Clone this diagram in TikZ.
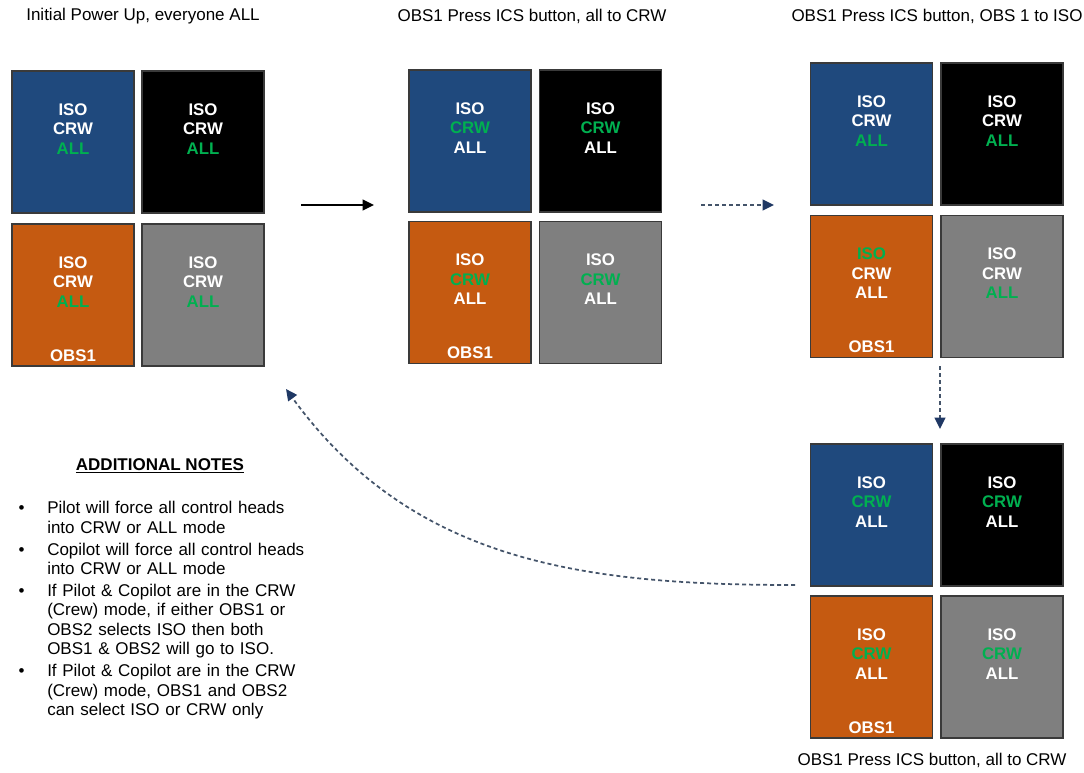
\documentclass[tikz,border=0pt]{standalone}
\usepackage{fontspec}
\setmainfont{Liberation Sans}
\usepackage{enumitem}
\usetikzlibrary{positioning}
\usetikzlibrary{arrows.meta}
\definecolor{hblue}{HTML}{1F497D}
\definecolor{horange}{HTML}{C55A11}
\definecolor{hgray}{HTML}{7F7F7F}
\definecolor{hblack}{HTML}{000000}
\definecolor{boxline}{HTML}{3A3A3A}
\definecolor{crwgreen}{HTML}{00B050}
\definecolor{flowline}{HTML}{44546A}
\definecolor{flowtip}{HTML}{1F3864}
\newcommand\grn[1]{\textcolor{crwgreen}{#1}}
% one control head: name, centre, fill, lines
\newcommand\ctrlhead[4]{%
\node[headbox, fill=#3] (#1) at (#2) {};
\node[headtxt] (#1t) at ([yshift=10pt]#1.center) {#4};
}
\newcommand\obslabel[1]{%
\node[headtxt] (#1obs) at ([yshift=8.5pt]#1.south) {OBS1};
}

\begin{document}
\begin{tikzpicture}[x=0.75pt,y=-0.75pt,
  headbox/.style={draw=boxline,line width=0.9pt,minimum width=91.5pt,minimum height=106.5pt,inner sep=0pt},
  headtxt/.style={text=white,font=\fontsize{12.6}{14.6}\selectfont\bfseries,align=center,inner sep=0pt},
  title/.style={font=\fontsize{12.75}{14.6}\selectfont,inner sep=0pt},
  flowsolid/.style={line width=1.2pt,-{Triangle[length=8.5pt,width=8pt]}},
  flowdash/.style={draw=flowline,line width=1.3pt,dash pattern=on 3pt off 2.25pt,-{Triangle[length=8.5pt,width=8pt,color=flowtip]}}]
	%% page
	\useasboundingbox (0,0) rectangle (1084,772);
	\fill[white] (0,0) rectangle (1084,772);

	%% titles
	\node[title] (ttl1) at (143,16) {Initial Power Up, everyone ALL};
	\node[title] (ttl2) at (532,16) {OBS1 Press ICS button, all to CRW};
	\node[title] (ttl3) at (937,16) {OBS1 Press ICS button, OBS 1 to ISO};
	\node[title] (ttl4) at (932,760) {OBS1 Press ICS button, all to CRW};

	%% power up
	\ctrlhead{aTL}{73,142}{hblue}{ISO\\CRW\\\grn{ALL}}
	\ctrlhead{aTR}{203,142}{hblack}{ISO\\CRW\\\grn{ALL}}
	\ctrlhead{aBL}{73,295}{horange}{ISO\\CRW\\\grn{ALL}}
	\ctrlhead{aBR}{203,295}{hgray}{ISO\\CRW\\\grn{ALL}}
	\obslabel{aBL}

	%% all to CRW
	\ctrlhead{bTL}{470,141}{hblue}{ISO\\\grn{CRW}\\ALL}
	\ctrlhead{bTR}{600.5,141}{hblack}{ISO\\\grn{CRW}\\ALL}
	\ctrlhead{bBL}{470,292.5}{horange}{ISO\\\grn{CRW}\\ALL}
	\ctrlhead{bBR}{600.5,292.5}{hgray}{ISO\\\grn{CRW}\\ALL}
	\obslabel{bBL}

	%% OBS 1 to ISO
	\ctrlhead{cTL}{871.5,134}{hblue}{ISO\\CRW\\\grn{ALL}}
	\ctrlhead{cTR}{1002,134}{hblack}{ISO\\CRW\\\grn{ALL}}
	\ctrlhead{cBL}{871.5,286.5}{horange}{\grn{ISO}\\CRW\\ALL}
	\ctrlhead{cBR}{1002,286.5}{hgray}{ISO\\CRW\\\grn{ALL}}
	\obslabel{cBL}

	%% back to CRW
	\ctrlhead{dTL}{871.5,515}{hblue}{ISO\\\grn{CRW}\\ALL}
	\ctrlhead{dTR}{1002,515}{hblack}{ISO\\\grn{CRW}\\ALL}
	\ctrlhead{dBL}{871.5,667}{horange}{ISO\\\grn{CRW}\\ALL}
	\ctrlhead{dBR}{1002,667}{hgray}{ISO\\\grn{CRW}\\ALL}
	\obslabel{dBL}

	%% arrows
	\coordinate (a1s) at (301,205);
	\coordinate (a1e) at (374,205);
	\coordinate (a2s) at (701,205);
	\coordinate (a2e) at (774,205);
	\coordinate (a3s) at (940,366);
	\coordinate (a3e) at (940,429);
	\coordinate (a4s) at (795,585);
	\coordinate (a4e) at (286,389);
	\draw[flowsolid] (a1s) -- (a1e);
	\draw[flowdash] (a2s) -- (a2e);
	\draw[flowdash] (a3s) -- (a3e);
	\draw[flowdash] (a4s) to[out=180,in=-54] (a4e);

	%% notes
	\node[title,font=\fontsize{12.75}{14.6}\selectfont\bfseries] (nhead) at (160,466) {\underline{ADDITIONAL NOTES}};
	\node[title,text width=232pt,align=left,anchor=north west] (notes) at (10,494) {%
	\begin{itemize}[leftmargin=27.75pt,labelsep=17pt,itemsep=1.8pt,parsep=0pt,topsep=0pt]
	\item Pilot will force all control heads\\into CRW or ALL mode
	\item Copilot will force all control heads\\into CRW or ALL mode
	\item If Pilot \& Copilot are in the CRW\\(Crew) mode, if either OBS1 or\\OBS2 selects ISO then both\\OBS1 \& OBS2 will go to ISO.
	\item If Pilot \& Copilot are in the CRW\\(Crew) mode, OBS1 and OBS2\\can select ISO or CRW only
	\end{itemize}};
\end{tikzpicture}
\end{document}
